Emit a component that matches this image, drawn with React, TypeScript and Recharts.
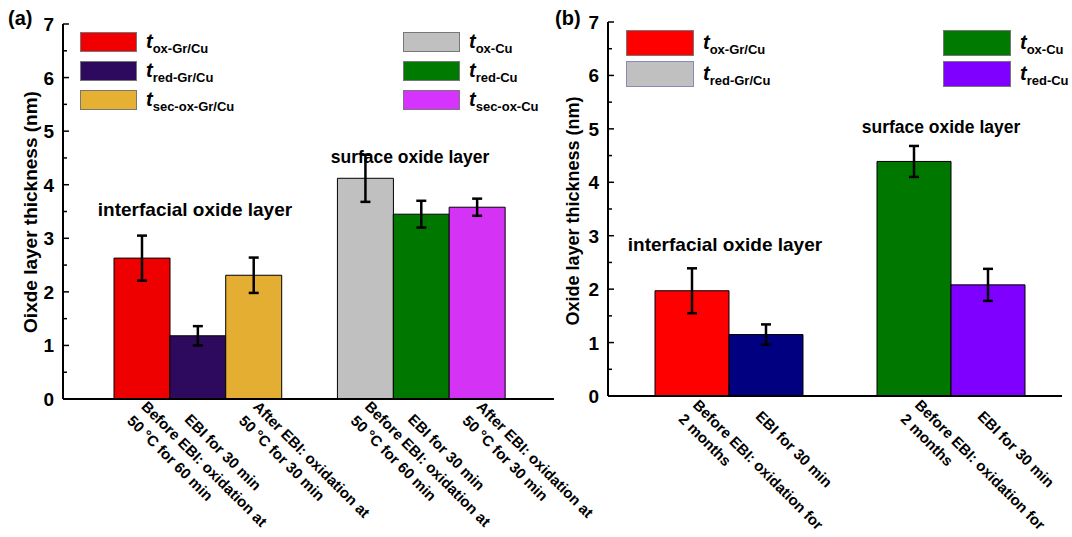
import React from "react";
import { BarChart, Bar, XAxis, YAxis, ErrorBar, Cell } from "recharts";

const FONT = "'Liberation Sans', Arial, Helvetica, sans-serif";

// ---------- Panel (a) ----------
const labelsA = [
  "Before EBI: oxidation at\n50 °C for 60 min",
  "EBI for 30 min",
  "After EBI: oxidation at\n50 °C for 30 min",
  "",
  "Before EBI: oxidation at\n50 °C for 60 min",
  "EBI for 30 min",
  "After EBI: oxidation at\n50 °C for 30 min",
];
const valuesA = [2.63, 1.18, 2.31, null, 4.12, 3.45, 3.58];
const errorsA = [0.42, 0.18, 0.33, null, 0.44, 0.25, 0.16];
const colorsA = ["#ee0000", "#2e0a5e", "#e4ae33", "#ffffff", "#c0c0c0", "#007800", "#d433f5"];

const legendSubsA = ["ox-Gr/Cu", "red-Gr/Cu", "sec-ox-Gr/Cu", "ox-Cu", "red-Cu", "sec-ox-Cu"];
const legendColorsA = ["#f00000", "#2e0a5e", "#e6b033", "#c0c0c0", "#007a00", "#d633ff"];

// ---------- Panel (b) ----------
const labelsB = [
  "Before EBI: oxidation for\n2 months",
  "EBI for 30 min",
  "",
  "Before EBI: oxidation for\n2 months",
  "EBI for 30 min",
];
const valuesB = [1.97, 1.15, null, 4.39, 2.08];
const errorsB = [0.42, 0.19, null, 0.29, 0.3];
const colorsB = ["#ff0000", "#000080", "#ffffff", "#007800", "#8000ff"];

const legendSubsB = ["ox-Gr/Cu", "red-Gr/Cu", "ox-Cu", "red-Cu"];
const legendColorsB = ["#ff0000", "#c0c0c0", "#007a00", "#8000ff"];

const yTicks = [0, 0.5, 1, 1.5, 2, 2.5, 3, 3.5, 4, 4.5, 5, 5.5, 6, 6.5, 7];

const toRows = (values: (number | null)[], errors: (number | null)[]) =>
  values.map((v, i) => ({ id: `c${i}`, value: v, err: errors[i] }));

const rowsA = toRows(valuesA, errorsA);
const rowsB = toRows(valuesB, errorsB);

const makeXTick = (labels: string[], single: number, multi: number, lh: number, along: number) => (props: any) => {
  const { x, y, payload } = props;
  const idx = Number(String(payload.value).slice(1));
  const text = labels[idx] || "";
  if (!text) return <g />;
  const lines = text.split("\n");
  const n = lines.length;
  const start = n === 1 ? single : multi;
  return (
    <g transform={`translate(${x},${y}) rotate(45)`}>
      {lines.map((l, i) => (
        <text
          key={i}
          x={along}
          y={start + i * lh + 11}
          fontSize={15}
          fontWeight="bold"
          fontFamily={FONT}
          fill="#000"
          textAnchor="start"
        >
          {l}
        </text>
      ))}
    </g>
  );
};

const XTickA = makeXTick(labelsA, 14, -4, 20, 5);
const XTickB = makeXTick(labelsB, 12, -4, 20, 7);

const YTick = (props: any) => {
  const { x, y, payload } = props;
  const v = payload.value;
  const major = Math.abs(v - Math.round(v)) < 1e-6;
  return (
    <g>
      <line x1={x} x2={x + (major ? 6 : 4)} y1={y} y2={y} stroke="#000" strokeWidth={1.5} />
      {major && (
        <text x={x - 9} y={y + 7} textAnchor="end" fontSize={19} fontWeight="bold" fontFamily={FONT} fill="#000">
          {v}
        </text>
      )}
    </g>
  );
};

const axisStyle = { stroke: "#000", strokeWidth: 2 };

const Panel = (p: {
  rows: any[];
  colors: string[];
  width: number;
  top: number;
  right: number;
  yWidth: number;
  xHeight: number;
  padL: number;
  padR: number;
  xTick: any;
}) => (
  <BarChart
    width={p.width}
    height={537}
    data={p.rows}
    margin={{ top: p.top, right: p.right, bottom: 0, left: 0 }}
    barCategoryGap={0}
    barGap={0}
  >
    <XAxis
      dataKey="id"
      height={p.xHeight}
      interval={0}
      tickLine={false}
      tickSize={0}
      tickMargin={0}
      tick={p.xTick}
      axisLine={axisStyle}
      padding={{ left: p.padL, right: p.padR }}
    />
    <XAxis xAxisId="top" orientation="top" dataKey="id" height={0} tick={false} tickLine={false} axisLine={axisStyle} />
    <YAxis
      type="number"
      domain={[0, 7]}
      ticks={yTicks}
      interval={0}
      width={p.yWidth}
      tickLine={false}
      tickSize={0}
      tickMargin={0}
      tick={<YTick />}
      axisLine={axisStyle}
    />
    <YAxis yAxisId="right" orientation="right" width={0} domain={[0, 7]} tick={false} tickLine={false} axisLine={axisStyle} />
    <Bar dataKey="value" stroke="#000" strokeWidth={1} isAnimationActive={false}>
      {p.rows.map((r, i) => (
        <Cell key={r.id} fill={p.colors[i]} />
      ))}
      <ErrorBar dataKey="err" width={5} stroke="#000" strokeWidth={2.5} direction="y" isAnimationActive={false} />
    </Bar>
  </BarChart>
);

const LegendEntry = (p: { x: number; y: number; w: number; h: number; color: string; border: string; sub: string }) => (
  <g>
    <rect x={p.x + 0.5} y={p.y + 0.5} width={p.w - 1} height={p.h - 1} fill={p.color} stroke={p.border} strokeWidth={1} />
    <text x={p.x + p.w + 9} y={p.y + p.h / 2 + 6} fontFamily={FONT} fontWeight="bold" fill="#000">
      <tspan fontSize={20} fontStyle="italic">t</tspan>
      <tspan fontSize={13} dy={5}>{p.sub}</tspan>
    </text>
  </g>
);

const Overlay = () => (
  <svg width={1072} height={537} style={{ position: "absolute", left: 0, top: 0, pointerEvents: "none" }}>
    <text x={8} y={25} fontSize={20} fontWeight="bold" fontFamily={FONT}>(a)</text>
    <text x={555} y={25} fontSize={20} fontWeight="bold" fontFamily={FONT}>(b)</text>
    <text transform="translate(37,212) rotate(-90)" textAnchor="middle" fontSize={19} fontWeight="bold" fontFamily={FONT}>
      Oixde layer thickness (nm)
    </text>
    <text transform="translate(579,211) rotate(-90)" textAnchor="middle" fontSize={18} fontWeight="bold" fontFamily={FONT}>
      Oxide layer thickness (nm)
    </text>
    <text x={195} y={216} textAnchor="middle" fontSize={19} fontWeight="bold" fontFamily={FONT}>interfacial oxide layer</text>
    <text x={410} y={163} textAnchor="middle" fontSize={17.5} fontWeight="bold" fontFamily={FONT}>surface oxide layer</text>
    <text x={725} y={251} textAnchor="middle" fontSize={19} fontWeight="bold" fontFamily={FONT}>interfacial oxide layer</text>
    <text x={941} y={133} textAnchor="middle" fontSize={17.5} fontWeight="bold" fontFamily={FONT}>surface oxide layer</text>
    {legendSubsA.map((s, i) => (
      <LegendEntry
        key={"a" + i}
        x={i < 3 ? 80 : 403}
        y={32 + (i % 3) * 29}
        w={57}
        h={20}
        color={legendColorsA[i]}
        border="#777"
        sub={s}
      />
    ))}
    {legendSubsB.map((s, i) => (
      <LegendEntry
        key={"b" + i}
        x={i < 2 ? 626 : 943}
        y={30 + (i % 2) * 31}
        w={68}
        h={26}
        color={legendColorsB[i]}
        border={i === 1 ? "#8888bb" : "#777"}
        sub={s}
      />
    ))}
  </svg>
);

export default function App() {
  return (
    <div style={{ position: "absolute", left: 0, top: 0, width: 1072, height: 537, background: "#fff", fontFamily: FONT, overflow: "hidden" }}>
      <style>{`.recharts-wrapper, .recharts-surface { overflow: visible !important; }`}</style>
      <div style={{ position: "absolute", left: 0, top: 0 }}>
        <Panel rows={rowsA} colors={colorsA} width={560} top={24} right={6} yWidth={63} xHeight={138} padL={51} padR={49} xTick={XTickA} />
      </div>
      <div style={{ position: "absolute", left: 556, top: 0 }}>
        <Panel rows={rowsB} colors={colorsB} width={516} top={22} right={10} yWidth={52} xHeight={141} padL={47} padR={37} xTick={XTickB} />
      </div>
      <Overlay />
    </div>
  );
}
